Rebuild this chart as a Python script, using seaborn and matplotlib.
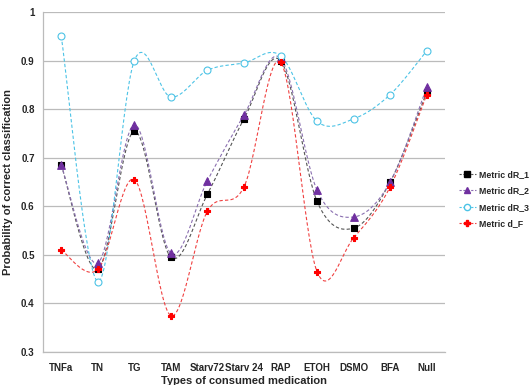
import matplotlib
matplotlib.use("Agg")
import matplotlib.pyplot as plt
import numpy as np
import pandas as pd
import seaborn as sns

categories = ["TNFa", "TN", "TG", "TAM", "Starv72", "Starv 24", "RAP",
              "ETOH", "DSMO", "BFA", "Null"]
dr_1 = [0.685, 0.470, 0.755, 0.495, 0.625, 0.780, 0.900, 0.610, 0.555, 0.650, 0.835]
dr_2 = [0.685, 0.483, 0.768, 0.503, 0.653, 0.788, 0.905, 0.633, 0.578, 0.650, 0.845]
dr_3 = [0.950, 0.445, 0.900, 0.825, 0.880, 0.895, 0.910, 0.775, 0.780, 0.830, 0.920]
d_f = [0.510, 0.470, 0.655, 0.375, 0.590, 0.640, 0.897, 0.465, 0.535, 0.640, 0.830]

series = {
    "Metric dR_1": dr_1,
    "Metric dR_2": dr_2,
    "Metric dR_3": dr_3,
    "Metric d_F": d_f,
}


def smooth(y, n=30):
    # Catmull-Rom style smoothing, like spreadsheet "smoothed line"
    y = np.asarray(y, dtype=float)
    x = np.arange(len(y), dtype=float)
    px = np.concatenate([[x[0]], x, [x[-1]]])
    py = np.concatenate([[y[0]], y, [y[-1]]])
    xs, ys = [], []
    for i in range(1, len(px) - 2):
        p0, p1, p2, p3 = [np.array([px[j], py[j]]) for j in range(i - 1, i + 3)]
        c1 = p1 + (p2 - p0) / 6
        c2 = p2 - (p3 - p1) / 6
        t = np.linspace(0, 1, n)[:, None]
        pts = ((1 - t) ** 3) * p1 + 3 * ((1 - t) ** 2) * t * c1 \
            + 3 * (1 - t) * t ** 2 * c2 + t ** 3 * p2
        xs.append(pts[:, 0])
        ys.append(pts[:, 1])
    return np.concatenate(xs), np.concatenate(ys)


styles = {
    "Metric dR_1": dict(color="#555555", mc="black", mec="black", marker="s", ms=5),
    "Metric dR_2": dict(color="#8A6FB0", mc="#7030A0", mec="#7030A0", marker="^", ms=5.5),
    "Metric dR_3": dict(color="#4CC3E6", mc="white", mec="#4CC3E6", marker="o", ms=5),
    "Metric d_F": dict(color="#F04040", mc="#FF0000", mec="#FF0000", marker="P", ms=5),
}

sns.set_style("white")
plt.rcParams["font.family"] = ["Liberation Sans", "DejaVu Sans"]

fig, ax = plt.subplots(figsize=(5.32, 3.85), dpi=100)
fig.subplots_adjust(left=43 / 532, right=445 / 532, top=1 - 12 / 385, bottom=1 - 352 / 385)

for name, vals in series.items():
    st = styles[name]
    sx, sy = smooth(vals)
    ax.plot(sx, sy, ls=(0, (3, 2)), lw=0.8, color=st["color"], zorder=2)
    df = pd.DataFrame({"x": np.arange(len(vals)), "y": vals})
    sns.scatterplot(data=df, x="x", y="y", ax=ax, marker=st["marker"],
                    s=st["ms"] ** 2, color=st["mc"], edgecolor=st["mec"],
                    linewidth=0.8, zorder=3)
    ax.plot([], [], ls=(0, (2, 1.5)), lw=0.8, color=st["color"], marker=st["marker"],
            ms=st["ms"] - 0.5, mfc=st["mc"], mec=st["mec"], label=name)

ax.set_xlim(-0.5, len(categories) - 0.5)
ax.set_ylim(0.3, 1.0)
ax.set_xticks(range(len(categories)))
ax.set_xticklabels(categories, fontsize=7, fontweight="bold")
yt = [0.3, 0.4, 0.5, 0.6, 0.7, 0.8, 0.9, 1.0]
ax.set_yticks(yt)
ax.set_yticklabels(["0.3", "0.4", "0.5", "0.6", "0.7", "0.8", "0.9", "1"],
                   fontsize=7, fontweight="bold")
ax.tick_params(axis="x", length=0, pad=8)
ax.tick_params(axis="y", length=0, pad=6)
ax.grid(axis="y", color="#BBBBBB", lw=0.9)
ax.set_axisbelow(True)
for s in ["top", "right"]:
    ax.spines[s].set_visible(False)
for s in ["left", "bottom"]:
    ax.spines[s].set_color("#BBBBBB")
    ax.spines[s].set_linewidth(0.9)

ax.set_xlabel("Types of consumed medication", fontsize=8, fontweight="bold", labelpad=2)
ax.set_ylabel("Probability of correct classification", fontsize=8, fontweight="bold", labelpad=6)

ax.legend(loc="center left", bbox_to_anchor=(1.025, 0.45), frameon=False,
          prop={"size": 6.3, "weight": "bold"},
          handlelength=2.0, labelspacing=0.85, handletextpad=0.3, borderaxespad=0)

fig.savefig("out.png", dpi=100)
